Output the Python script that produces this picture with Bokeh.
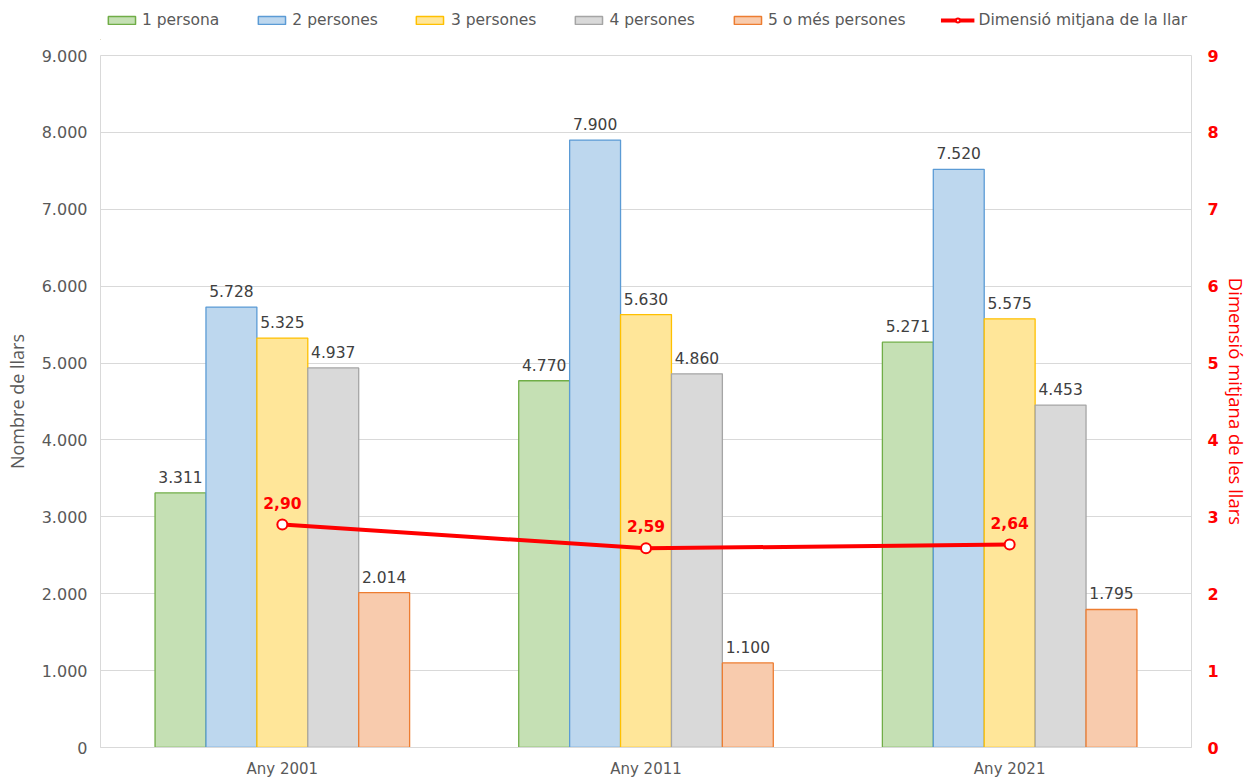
from bokeh.plotting import figure
from bokeh.models import (FactorRange, Range1d, LinearAxis, Legend, LegendItem,
                          ColumnDataSource, FixedTicker)
from bokeh.layouts import column
from bokeh.transform import dodge
from bokeh.core.properties import value
from bokeh.embed import file_html
from bokeh.resources import INLINE

years = ["Any 2001", "Any 2011", "Any 2021"]
series_names = ["1 persona", "2 persones", "3 persones", "4 persones", "5 o més persones"]
p1 = [3311, 4770, 5271]
p2 = [5728, 7900, 7520]
p3 = [5325, 5630, 5575]
p4 = [4937, 4860, 4453]
p5 = [2014, 1100, 1795]
avg_size = [2.90, 2.59, 2.64]
avg_name = "Dimensió mitjana de la llar"
left_ticks = [0, 1000, 2000, 3000, 4000, 5000, 6000, 7000, 8000, 9000]
left_tick_labels = ["0", "1.000", "2.000", "3.000", "4.000", "5.000", "6.000", "7.000", "8.000", "9.000"]
right_ticks = [0, 1, 2, 3, 4, 5, 6, 7, 8, 9]

fills = ["#c5e0b4", "#bdd7ee", "#ffe699", "#d9d9d9", "#f8cbad"]
lines = ["#70ad47", "#5b9bd5", "#ffc000", "#a5a5a5", "#ed7d31"]
offsets = [-0.28, -0.14, 0.0, 0.14, 0.28]
RED = "#ff0000"

def fmt_int(v):
    return f"{v:,}".replace(",", ".")

def fmt_dec(v):
    return f"{v:.2f}".replace(".", ",")

series = [p1, p2, p3, p4, p5]
data = {"year": years, "avg": avg_size, "avg_lbl": [fmt_dec(v) for v in avg_size]}
for i, s in enumerate(series):
    data[f"s{i}"] = s
    data[f"l{i}"] = [fmt_int(v) for v in s]
src = ColumnDataSource(data)

# ---------------- main chart ----------------
p = figure(width=1251, height=740, x_range=FactorRange(*years, range_padding=0),
           y_range=Range1d(0, 9000), output_backend="svg", toolbar_location=None,
           min_border_left=100, min_border_right=56, min_border_top=15, min_border_bottom=32)
p.extra_y_ranges = {"right": Range1d(0, 9)}
p.background_fill_color = "white"
p.border_fill_color = "white"
p.outline_line_color = "#d9d9d9"
p.xgrid.grid_line_color = None
p.ygrid.grid_line_color = "#d9d9d9"
p.ygrid.ticker = FixedTicker(ticks=left_ticks)

for i in range(5):
    p.vbar(x=dodge("year", offsets[i], range=p.x_range), top=f"s{i}", width=0.14,
           source=src, fill_color=fills[i], line_color=lines[i], line_width=1.3)
    p.text(x=dodge("year", offsets[i], range=p.x_range), y=f"s{i}", text=f"l{i}",
           source=src, text_align="center", text_baseline="middle", y_offset=-16,
           text_font=value("DejaVu Sans"), text_font_size="15.5px", text_color="#404040")

p.line(x="year", y="avg", source=src, y_range_name="right", line_color=RED, line_width=4)
p.scatter(x="year", y="avg", source=src, y_range_name="right", size=10,
          fill_color="white", line_color=RED, line_width=2)
p.text(x="year", y="avg", text="avg_lbl", source=src, y_range_name="right",
       text_align="center", text_baseline="middle", y_offset=-22,
       text_font=value("DejaVu Sans"), text_font_size="15.5px", text_font_style="bold",
       text_color=RED)

xa = p.xaxis[0]
xa.axis_line_color = "#d9d9d9"
xa.major_tick_line_color = None
xa.minor_tick_line_color = None
xa.major_tick_out = 0
xa.major_tick_in = 0
xa.major_label_text_font = "DejaVu Sans"
xa.major_label_text_font_size = "15px"
xa.major_label_text_color = "#595959"
xa.major_label_standoff = 12

ya = p.yaxis[0]
ya.ticker = FixedTicker(ticks=left_ticks)
ya.major_label_overrides = {t: l for t, l in zip(left_ticks, left_tick_labels)}
ya.axis_line_color = None
ya.major_tick_line_color = None
ya.minor_tick_line_color = None
ya.major_tick_out = 0
ya.major_tick_in = 0
ya.major_label_text_font = "DejaVu Sans"
ya.major_label_text_font_size = "16px"
ya.major_label_text_color = "#595959"
ya.major_label_standoff = 13
ya.axis_label = "Nombre de llars"
ya.axis_label_text_font = "Open Sans"
ya.axis_label_text_font_style = "normal"
ya.axis_label_text_font_size = "18px"
ya.axis_label_text_color = "#595959"
ya.axis_label_standoff = 10

ra = LinearAxis(y_range_name="right", ticker=FixedTicker(ticks=right_ticks))
ra.axis_line_color = None
ra.major_tick_line_color = None
ra.minor_tick_line_color = None
ra.major_tick_out = 0
ra.major_tick_in = 0
ra.major_label_text_font = "DejaVu Sans"
ra.major_label_text_font_style = "bold"
ra.major_label_text_font_size = "16px"
ra.major_label_text_color = RED
ra.major_label_standoff = 16
ra.axis_label = "Dimensió mitjana de les llars"
ra.axis_label_text_font = "Open Sans"
ra.axis_label_text_font_style = "normal"
ra.axis_label_text_font_size = "18.5px"
ra.axis_label_text_color = RED
ra.axis_label_standoff = 2
p.add_layout(ra, "right")

# ---------------- legend strip ----------------
lg = figure(width=1251, height=40, x_range=Range1d(0, 1), y_range=Range1d(0, 1),
            output_backend="svg", toolbar_location=None,
            x_axis_location=None, y_axis_location=None,
            min_border_left=0, min_border_right=14, min_border_top=0, min_border_bottom=0)
lg.outline_line_color = None
lg.grid.grid_line_color = None
lg.background_fill_color = "white"
lg.border_fill_color = "white"
items = []
for i in range(5):
    r = lg.vbar(x=[-5], top=[-5], bottom=[-6], width=0.1, fill_color=fills[i],
                line_color=lines[i], line_width=1.5)
    items.append(LegendItem(label=series_names[i], renderers=[r]))
lr = lg.line(x=[-5, -4], y=[-5, -5], line_color=RED, line_width=4)
sr = lg.scatter(x=[-5], y=[-5], size=9, fill_color="white", line_color=RED, line_width=2)
items.append(LegendItem(label=avg_name, renderers=[lr, sr]))
legend = Legend(items=items, orientation="horizontal", location="center",
                label_text_font="DejaVu Sans", label_text_font_size="15.5px",
                label_text_color="#595959", glyph_width=34, glyph_height=10,
                spacing=35, label_standoff=4, padding=0, margin=0,
                border_line_color=None, background_fill_alpha=0)
lg.add_layout(legend, "center")

open("out.html", "w").write(file_html(column(lg, p), INLINE))
